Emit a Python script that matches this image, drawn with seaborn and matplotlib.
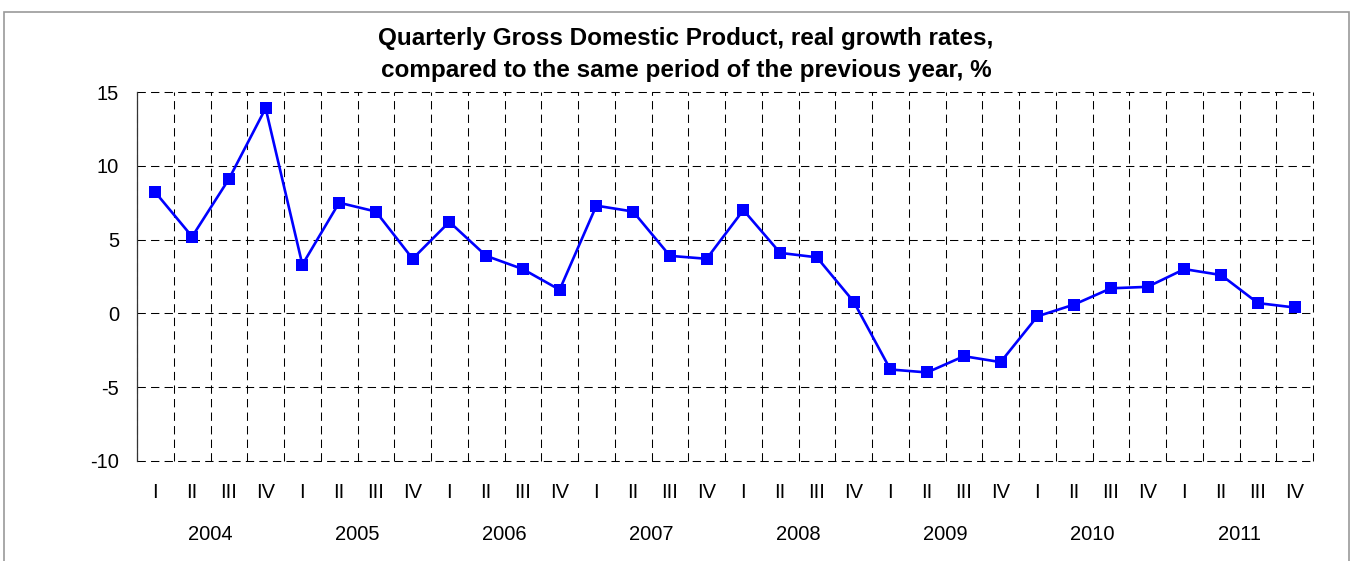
import matplotlib
matplotlib.use("Agg")
import matplotlib.pyplot as plt
import matplotlib.transforms as mtransforms
from matplotlib.patches import Rectangle
import seaborn as sns
import pandas as pd
import numpy as np

years = ["2004", "2005", "2006", "2007", "2008", "2009", "2010", "2011"]
quarters = ["I", "II", "III", "IV"]
growth = [8.2, 5.2, 9.1, 13.9,
          3.3, 7.5, 6.9, 3.7,
          6.2, 3.9, 3.0, 1.6,
          7.3, 6.9, 3.9, 3.7,
          7.0, 4.1, 3.8, 0.8,
          -3.8, -4.0, -2.9, -3.3,
          -0.2, 0.6, 1.7, 1.8,
          3.0, 2.6, 0.7, 0.4]
title_lines = ["Quarterly Gross Domestic Product, real growth rates,",
               "compared to the same period of the previous year, %"]
y_ticks = [-10, -5, 0, 5, 10, 15]

sns.set_style("white")
plt.rcParams['font.family'] = ['Liberation Sans', 'DejaVu Sans']
plt.rcParams['text.color'] = 'black'

labels = [q for y in years for q in quarters]
df = pd.DataFrame({"pos": np.arange(len(growth)), "value": growth, "label": labels})

fig = plt.figure(figsize=(13.53, 5.61), dpi=100)
ax = fig.add_axes([137/1353, 1 - 461/561, (1313-137)/1353, (461-92)/561])

sns.lineplot(data=df, x="pos", y="value", ax=ax, color="#0000FF", linewidth=1.9,
             marker="s", markersize=8, markeredgecolor="#0000FF", markeredgewidth=0)

ax.set_xlim(-0.5, len(growth) - 0.5)
ax.set_ylim(-10, 15)
ax.set_yticks(y_ticks)
ax.set_yticklabels([str(t) for t in y_ticks])
ax.set_xticks(df["pos"])
ax.set_xticklabels(df["label"])
ax.set_xticks(np.arange(-0.5, len(growth), 1), minor=True)
ax.tick_params(axis="both", which="both", length=0, labelsize=14.5, colors="black")
ax.tick_params(axis="x", which="major", pad=16)
ax.tick_params(axis="y", length=3, width=0.8, color="#333333", pad=10)
ax.set_xlabel("")
ax.set_ylabel("")

ax.grid(False)
ax.grid(True, axis="x", which="minor", color="black", linestyle=(0, (8, 5)), linewidth=0.75)
ax.grid(True, axis="y", which="major", color="black", linestyle=(0, (8, 5)), linewidth=0.75)
for t in ax.xaxis.get_minor_ticks() + ax.yaxis.get_major_ticks():
    t.gridline.set_clip_on(False)
for name, s in ax.spines.items():
    s.set_visible(name == "left")
ax.spines["left"].set_color("#333333")
ax.spines["left"].set_linewidth(0.9)

trans = mtransforms.blended_transform_factory(ax.transData, ax.transAxes)
for i, yr in enumerate(years):
    ax.text(i * 4 + 1.5, -(535 - 461) / 369, yr, transform=trans, ha="center", va="center",
            fontsize=14.5, color="black")

fig.text(686/1353, 1 - 39/561, title_lines[0], ha="center", va="center",
         fontsize=17.5, fontweight="bold", color="black")
fig.text(686/1353, 1 - 70/561, title_lines[1], ha="center", va="center",
         fontsize=17.5, fontweight="bold", color="black")

fig.patches.append(Rectangle((4/1353, -0.1), (1349-4)/1353, 1.1 - 12/561,
                             transform=fig.transFigure, fill=False,
                             edgecolor="#999999", linewidth=1.2, figure=fig))

fig.savefig("out.png", dpi=100)
